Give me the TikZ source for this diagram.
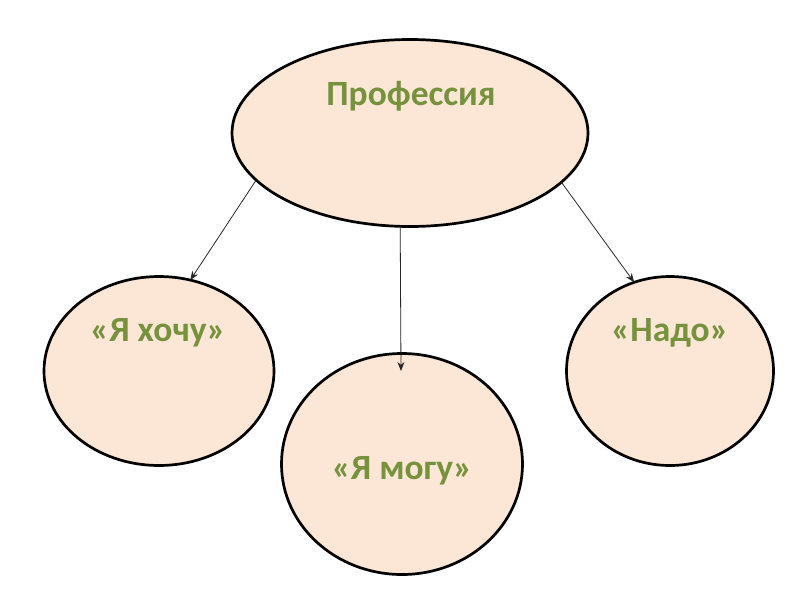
\documentclass[tikz,border=0pt]{standalone}
\usepackage{fontspec}
\setmainfont{Carlito}
\usetikzlibrary{shapes.geometric,arrows.meta}
\definecolor{peach}{RGB}{252,230,214}
\definecolor{olive}{RGB}{118,146,60}
\tikzset{
  bubble/.style={ellipse, draw=black, line width=2.7pt, fill=peach, inner sep=0pt, outer sep=0pt},
  lbl/.style={text=olive, font=\fontsize{35.5}{38}\selectfont\bfseries, inner sep=0pt},
  link/.style={draw=black!85, line width=0.8pt, -{Stealth[length=9pt,width=7pt]}}
}
\begin{document}
\begin{tikzpicture}[x=1pt,y=-1pt]
\useasboundingbox[fill=white] (0,0) rectangle (800,600);
\node[bubble, minimum width=356pt, minimum height=187pt] (top) at (410,133) {};
\node[bubble, minimum width=230pt, minimum height=189pt] (left) at (159,371) {};
\node[bubble, minimum width=241pt, minimum height=221pt] (mid) at (402,464) {};
\node[bubble, minimum width=207pt, minimum height=189pt] (right) at (670,371) {};
\node[lbl] (t1) at (411,96) {Профессия};
\node[lbl] (t2) at (158,333) {«Я хочу»};
\node[lbl] (t3) at (402,471) {«Я могу»};
\node[lbl] (t4) at (670,333) {«Надо»};
\coordinate (midtip) at (401,371);
\draw[link] (top.197.6) -- (left.71.4);
\draw[link] (top.264.5) -- (midtip);
\draw[link] (top.342.8) -- (right.112.8);
\end{tikzpicture}
\end{document}
